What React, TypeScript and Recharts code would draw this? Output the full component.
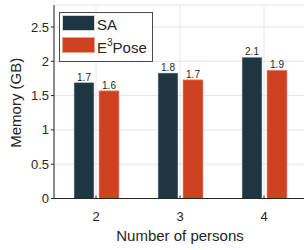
import React from 'react';
import { BarChart, Bar, XAxis, YAxis, CartesianGrid, LabelList, Label } from 'recharts';

const categories = ['2', '3', '4'];
const saValues = [1.69, 1.83, 2.06];
const e3poseValues = [1.57, 1.73, 1.87];
const yTicks = [0, 0.5, 1, 1.5, 2, 2.5];
const yDomain = [0, 2.82];
const seriesNames = ['SA', 'E3Pose'];

const SA_COLOR = '#1e3641';
const E3_COLOR = '#cf4221';
const INK = '#262626';

const data = categories.map((c, i) => ({ persons: c, sa: saValues[i], e3: e3poseValues[i] }));

const fmt = (v: any) => Number(v).toFixed(1);

const XLabel = (props: any) => {
  const vb = props.viewBox || { x: 54, y: 198, width: 252, height: 30 };
  return (
    <text x={vb.x + vb.width / 2} y={vb.y + 42} textAnchor="middle" fontSize={15} fill={INK}>
      Number of persons
    </text>
  );
};

const YLabel = (props: any) => {
  const vb = props.viewBox || { x: 0, y: 5, width: 54, height: 194 };
  const cx = 21;
  const cy = vb.y + vb.height / 2 + 1;
  return (
    <text x={cx} y={cy} textAnchor="middle" fontSize={15} fill={INK} transform={`rotate(-90, ${cx}, ${cy})`}>
      Memory (GB)
    </text>
  );
};

export default function App() {
  return (
    <div
      style={{
        position: 'fixed',
        left: 0,
        top: 0,
        width: 304,
        height: 250,
        overflow: 'hidden',
        background: '#ffffff',
        fontFamily: '"Liberation Sans", Arial, Helvetica, sans-serif',
      }}
    >
      <BarChart
        width={312}
        height={250}
        data={data}
        margin={{ top: 5, right: 6, bottom: 21.5, left: 0 }}
        barGap={5}
      >
        <CartesianGrid stroke="#e6e6e6" strokeWidth={1} />
        <XAxis
          dataKey="persons"
          height={30}
          interval={0}
          tickSize={-3}
          tickMargin={16}
          axisLine={{ stroke: INK, strokeWidth: 1 }}
          tickLine={{ stroke: INK }}
          tick={{ fill: INK, fontSize: 13 }}
        >
          <Label content={XLabel} />
        </XAxis>
        <XAxis
          xAxisId="top"
          orientation="top"
          dataKey="persons"
          height={0}
          interval={0}
          tickSize={-3}
          tick={false}
          axisLine={{ stroke: '#3a3a3a', strokeWidth: 1 }}
          tickLine={{ stroke: INK }}
        />
        <YAxis
          width={54}
          domain={yDomain}
          ticks={yTicks}
          tickSize={3}
          tickMargin={2}
          axisLine={{ stroke: INK, strokeWidth: 1 }}
          tickLine={{ stroke: INK }}
          tick={{ fill: INK, fontSize: 13 }}
          tickFormatter={(v: number) => String(v)}
        >
          <Label content={YLabel} />
        </YAxis>
        <YAxis
          yAxisId="right"
          orientation="right"
          width={0}
          domain={yDomain}
          ticks={yTicks}
          tickSize={-3}
          tick={false}
          axisLine={{ stroke: INK, strokeWidth: 1 }}
          tickLine={{ stroke: INK }}
        />
        <Bar dataKey="sa" name={seriesNames[0]} fill={SA_COLOR} stroke="#cfd6d9" strokeWidth={0.6} barSize={20} isAnimationActive={false}>
          <LabelList dataKey="sa" position="top" offset={2} formatter={fmt} style={{ fontSize: 10, fill: INK }} />
        </Bar>
        <Bar dataKey="e3" name={seriesNames[1]} fill={E3_COLOR} stroke="#eea08c" strokeWidth={0.6} barSize={20} isAnimationActive={false}>
          <LabelList dataKey="e3" position="top" offset={2} formatter={fmt} style={{ fontSize: 10, fill: INK }} />
        </Bar>
      </BarChart>
      <div
        style={{
          position: 'absolute',
          left: 59,
          top: 12,
          width: 92,
          height: 48,
          border: '1px solid #4a4a4a',
          background: '#ffffff',
          fontSize: 15,
          color: INK,
          lineHeight: 1,
        }}
      >
        <div style={{ position: 'absolute', left: 2, top: 2, width: 33, height: 16, background: SA_COLOR, boxSizing: 'border-box', border: '0.6px solid #cfd6d9' }} />
        <div style={{ position: 'absolute', left: 37, top: 4, whiteSpace: 'nowrap' }}>{seriesNames[0]}</div>
        <div style={{ position: 'absolute', left: 2, top: 24, width: 33, height: 16, background: E3_COLOR, boxSizing: 'border-box', border: '0.6px solid #eea08c' }} />
        <div style={{ position: 'absolute', left: 37, top: 27, whiteSpace: 'nowrap' }}>
          E<sup style={{ fontSize: 10, verticalAlign: 'top', position: 'relative', top: -2 }}>3</sup>Pose
        </div>
      </div>
    </div>
  );
}
